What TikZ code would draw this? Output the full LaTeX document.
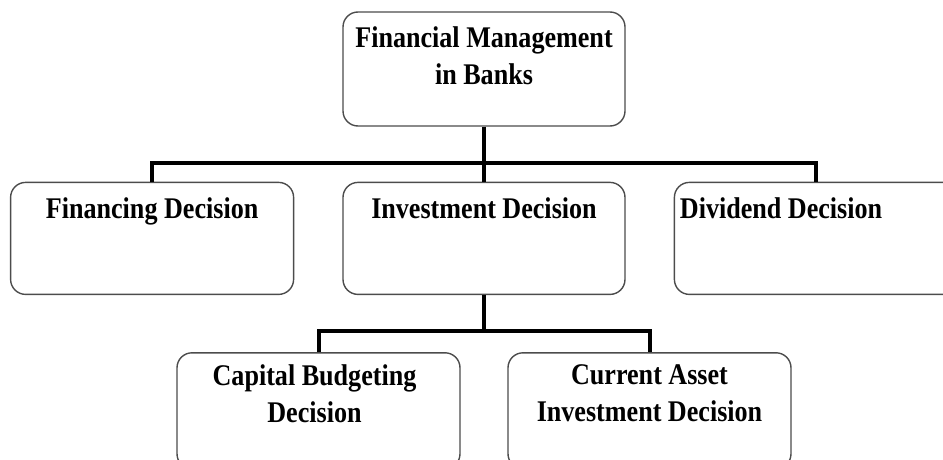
\documentclass[tikz,border=0pt]{standalone}
\usepackage{fontspec}
\setmainfont{Liberation Serif}[FakeStretch=0.87]
\usetikzlibrary{positioning}

\begin{document}
\begin{tikzpicture}[x=1pt, y=1pt]
    % ------- style -------
    \tikzset{%
        box/.style={%
            draw=black!70, line width=1.4pt, rounded corners=15pt,
            minimum width=283pt, minimum height=112pt, inner sep=0pt,
        },
        boxtext/.style={%
            anchor=north, align=center, inner sep=0pt,
            font=\fontsize{30}{37}\selectfont\bfseries,
        },
        link/.style={line width=4pt, black},
        node distance = 55pt,
    }

    \path[use as bounding box, clip] (0,0) rectangle (943,-460);

    % ------- boxes -------
    \node[box, minimum width=282pt, minimum height=114pt] (top) at (484,-69) {};
    \node[box, minimum width=282pt] (inv) [below = of top] {};
    \node[box] (fin) [left = 48pt of inv] {};
    \node[box] (div) [right = 48pt of inv] {};
    \node[box, minimum height=116pt] (cap) [below = 57pt of inv, xshift=-165.5pt] {};
    \node[box, minimum height=116pt] (cur) [below = 57pt of inv, xshift=165.5pt] {};

    % ------- texts -------
    \node[boxtext] (top-text) at ([yshift=-15.5pt] top.north) {Financial Management\\in Banks};
    \node[boxtext] (fin-text) at ([yshift=-15.5pt] fin.north) {Financing Decision};
    \node[boxtext] (inv-text) at ([yshift=-15.5pt] inv.north) {Investment Decision};
    \node[boxtext, anchor=north west] (div-text) at ([xshift=6pt, yshift=-15.5pt] div.north west) {Dividend Decision};
    \node[boxtext] (cap-text) at ([xshift=-4pt, yshift=-12.5pt] cap.north) {Capital Budgeting\\Decision};
    \node[boxtext] (cur-text) at ([yshift=-12.5pt] cur.north) {Current Asset\\Investment Decision};

    % ------- connectors -------
    \coordinate (split1) at ([yshift=-36pt] top.south);
    \coordinate (split2) at ([yshift=-36pt] inv.south);

    \draw[link] (top.south) -- (split1) -- (inv.north);
    \draw[link] (fin.north) |- (split1) -| (div.north);

    \draw[link] (inv.south) -- (split2);
    \draw[link] (cap.north) |- (split2) -| (cur.north);
\end{tikzpicture}
\end{document}
